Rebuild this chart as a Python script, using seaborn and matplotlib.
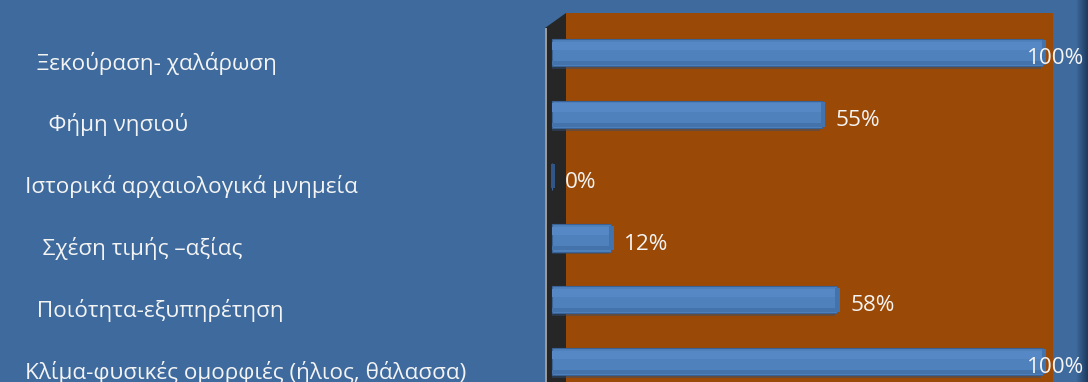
import matplotlib
matplotlib.use("Agg")
import matplotlib.pyplot as plt
import matplotlib.transforms as mtransforms
from matplotlib.patches import Polygon, Rectangle
from matplotlib.colors import LinearSegmentedColormap
import numpy as np
import seaborn as sns
import pandas as pd

categories = [
    "  Ξεκούραση- χαλάρωση",
    "    Φήμη νησιού",
    "Ιστορικά αρχαιολογικά μνημεία",
    "   Σχέση τιμής –αξίας",
    "  Ποιότητα-εξυπηρέτηση",
    "Κλίμα-φυσικές ομορφιές (ήλιος, θάλασσα)",
]
values = [100, 55, 0, 12, 58, 100]
value_labels = ["100%", "55%", "0%", "12%", "58%", "100%"]

BG = "#3e6a9d"
BROWN = "#9b4906"
BAR = "#4f81bd"
BAR_EDGE = "#3a6294"
WALL = "#262626"
TXT = "#f4f4f4"
FS = 16.2

sns.set_theme(style="white")
plt.rcParams["font.family"] = ["Open Sans", "DejaVu Sans"]

df = pd.DataFrame({"cat": categories, "val": values})

W, H = 1088, 382
fig = plt.figure(figsize=(W / 100, H / 100), dpi=100)
fig.patch.set_facecolor(BG)

# dark gradient shading at the right edge of the picture (drawn first)
shade = fig.add_axes([1076 / W, 0, 12 / W, 1])
shade.set_zorder(-1)
shade.axis("off")
cmap = LinearSegmentedColormap.from_list("edge", [BG, "#1d3a5e"])
shade.imshow(np.linspace(0, 1, 50)[None, :], aspect="auto", cmap=cmap,
             extent=[0, 1, 0, 1])

# axes geometry in pixels
left_px, right_px, top_px = 545, 1053, 13
row_px = 61.8
top_pad = 0.64
ax_h_px = row_px * (top_pad * 2 + 5)
ax = fig.add_axes([left_px / W, 1 - (top_px + ax_h_px) / H,
                   (right_px - left_px) / W, ax_h_px / H])
ax.set_zorder(1)
ax.set_facecolor(BG)

px_per_unit = (1043 - 552) / 100.0
x0 = -(552 - left_px) / px_per_unit
x1 = (right_px - 552) / px_per_unit
brown_start = (566 - 552) / px_per_unit

sns.barplot(data=df, y="cat", x="val", orient="h", color=BAR,
            width=0.44, saturation=1, edgecolor=BAR_EDGE, linewidth=0.8,
            ax=ax, zorder=3)

ax.set_xlim(x0, x1)
ax.set_ylim(5 + top_pad, -top_pad)

# back wall (brown) and left dark side wall
ax.axvspan(brown_start, x1, color=BROWN, zorder=0, lw=0)
trans = mtransforms.blended_transform_factory(ax.transData, ax.transAxes)
slant = 15 / ax_h_px
wall = Polygon([[x0, 0], [x0, 1 - slant], [brown_start, 1], [brown_start, 0]],
               closed=True, transform=trans, facecolor=WALL, edgecolor="none",
               zorder=1)
ax.add_patch(wall)
edge = Rectangle((x0, 0), 0.45, 1 - slant, transform=trans,
                 facecolor="#9a9a9a", edgecolor="none", zorder=2)
ax.add_patch(edge)

# 3D shading: shadow below, highlight on top, rounded end cap; value labels
for i, (p, v, lab) in enumerate(zip(ax.patches, values, value_labels)):
    y = p.get_y()
    h = p.get_height()
    if v > 0:
        ax.add_patch(Rectangle((0, y + h), v - 0.4, h * 0.1,
                               facecolor="#2e4f78", alpha=0.45,
                               edgecolor="none", zorder=2))
    ax.add_patch(Rectangle((v - 0.3, y + h * 0.05), 1.0, h * 0.9,
                           facecolor="#4373ad" if v > 0 else "#2f5687",
                           edgecolor="none", zorder=3))
    if v > 0:
        ax.add_patch(Rectangle((0, y + h * 0.1), v - 0.3, h * 0.3,
                               facecolor="#5588c5", edgecolor="none",
                               zorder=4))
        ax.add_patch(Rectangle((0, y + h * 0.8), v - 0.3, h * 0.15,
                               facecolor="#4472aa", edgecolor="none",
                               zorder=4))
    lx = v + 2.7 if v < 90 else v - 3.2
    ax.text(lx, i + 0.1, lab, ha="left", va="center", color=TXT,
            fontsize=FS, zorder=6)

ax.set_xlabel("")
ax.set_ylabel("")
ax.set_xticks([])
ax.tick_params(axis="y", length=0, pad=0)
ax.set_yticklabels(categories, fontsize=FS, color=TXT, ha="left")
down = mtransforms.ScaledTranslation(0, -8 / 100, fig.dpi_scale_trans)
for t in ax.get_yticklabels():
    t.set_x(-(left_px - 25) / (right_px - left_px))
    t.set_transform(t.get_transform() + down)
for s in ax.spines.values():
    s.set_visible(False)

fig.savefig("out.png", dpi=100, facecolor=BG)
